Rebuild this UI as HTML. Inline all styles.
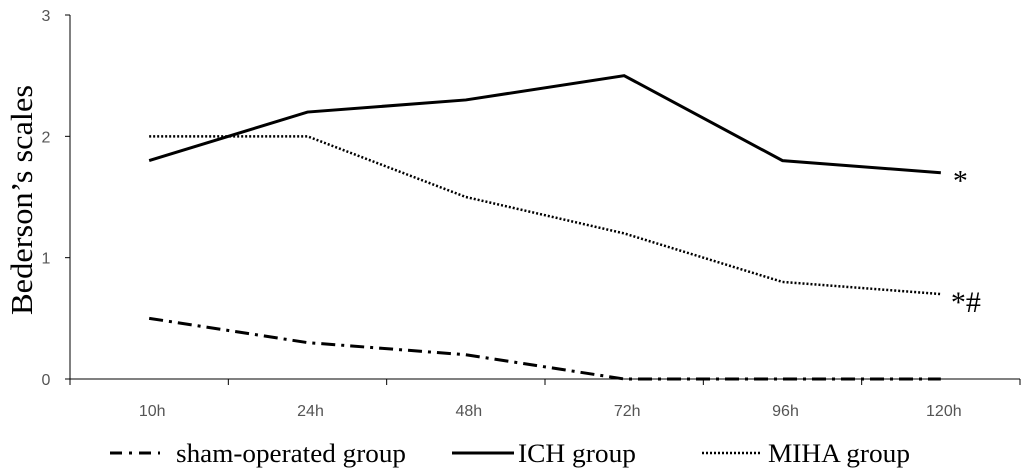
<!DOCTYPE html>
<html><head><meta charset="utf-8"><style>
body{margin:0;background:#fff;}
svg{display:block;}
</style></head><body>
<svg id="chart" width="1024" height="476" xmlns="http://www.w3.org/2000/svg"></svg>
<script>
const categories=["10h","24h","48h","72h","96h","120h"];
const shamValues=[0.5,0.3,0.2,0,0,0];
const ichValues=[1.8,2.2,2.3,2.5,1.8,1.7];
const mihaValues=[2.0,2.0,1.5,1.2,0.8,0.7];
const yTicks=[0,1,2,3];
const NS="http://www.w3.org/2000/svg";
const svg=document.getElementById("chart");
const x0=70,x1=1020,y0=379,y3=15;
const bw=(x1-x0)/categories.length;
function xs(i){return x0+bw*(i+0.5);}
function ys(v){return y0-(y0-y3)*v/3;}
function mk(tag,attrs,txt){const e=document.createElementNS(NS,tag);for(const k in attrs)e.setAttribute(k,attrs[k]);if(txt!=null)e.textContent=txt;svg.appendChild(e);return e;}
let e;
e=mk("line",{x1:x0,y1:y3,x2:x0,y2:y0,stroke:"#000","stroke-width":1});


e=mk("line",{x1:x0,y1:y0,x2:x1,y2:y0,stroke:"#000","stroke-width":1});


yTicks.forEach(t=>{
  e=mk("line",{x1:x0-5,y1:ys(t),x2:x0,y2:ys(t),stroke:"#000"});
  
  
  e=mk("text",{x:x0-24,y:ys(t)+6,"font-family":"Liberation Sans, sans-serif","font-size":16,fill:"#555","text-anchor":"middle"},t);
  
  
});
for(let i=0;i<=categories.length;i++){
  e=mk("line",{x1:x0+bw*i,y1:y0,x2:x0+bw*i,y2:y0+6,stroke:"#000"});
  
  
}
categories.forEach((c,i)=>{
  e=mk("text",{x:xs(i)+3,y:416,"font-family":"Liberation Sans, sans-serif","font-size":16,fill:"#555","text-anchor":"middle"},c);
  
  
});
e=mk("text",{x:0,y:0,transform:"translate(32,200) rotate(-90)","font-family":"Liberation Serif, serif","font-size":31,fill:"#000","text-anchor":"middle",textLength:230,lengthAdjust:"spacingAndGlyphs"},"Bederson’s scales");


function pts(arr){return arr.map((v,i)=>xs(i)+","+ys(v)).join(" ");}
e=mk("polyline",{points:pts(shamValues),fill:"none",stroke:"#000","stroke-width":3,"stroke-dasharray":"14 6 3 6"});


e=mk("polyline",{points:pts(ichValues),fill:"none",stroke:"#000","stroke-width":3});


e=mk("polyline",{points:pts(mihaValues),fill:"none",stroke:"#000","stroke-width":2.5,"stroke-dasharray":"2 2"});


const last=categories.length-1;
e=mk("text",{x:xs(last)+12,y:ys(ichValues[last])+18,"font-family":"Liberation Serif, serif","font-size":30,fill:"#000"},"*");


e=mk("text",{x:xs(last)+10,y:ys(mihaValues[last])+18,"font-family":"Liberation Serif, serif","font-size":30,fill:"#000"},"*#");


// legend
e=mk("line",{x1:110,y1:453,x2:160,y2:453,stroke:"#000","stroke-width":3,"stroke-dasharray":"12 7 3 7"});


e=mk("text",{x:176,y:462,"font-family":"Liberation Serif, serif","font-size":26,fill:"#000",textLength:230,lengthAdjust:"spacingAndGlyphs"},"sham-operated group");


e=mk("line",{x1:452,y1:453,x2:514,y2:453,stroke:"#000","stroke-width":3});


e=mk("text",{x:518,y:462,"font-family":"Liberation Serif, serif","font-size":26,fill:"#000",textLength:118,lengthAdjust:"spacingAndGlyphs"},"ICH group");


e=mk("line",{x1:702,y1:453,x2:760,y2:453,stroke:"#000","stroke-width":2.5,"stroke-dasharray":"2 2"});


e=mk("text",{x:768,y:462,"font-family":"Liberation Serif, serif","font-size":26,fill:"#000",textLength:142,lengthAdjust:"spacingAndGlyphs"},"MIHA group");


</script>
</body></html>
